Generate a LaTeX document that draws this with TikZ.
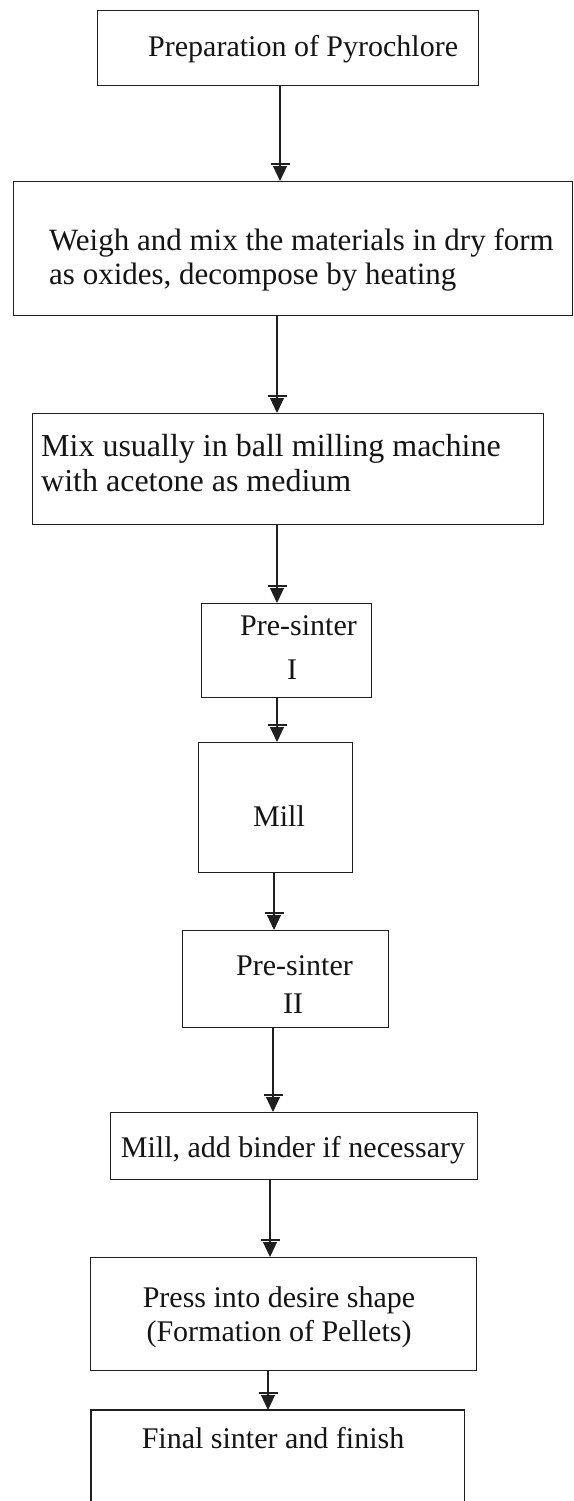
\documentclass[tikz,border=0pt]{standalone}
\usepackage{fontspec}
\setmainfont{Liberation Serif}
\usetikzlibrary{arrows.meta}
\begin{document}
\begin{tikzpicture}[x=1pt,y=-1pt,
  fr/.style={draw=black!88, line width=1.1pt, inner sep=0pt, anchor=north west},
  txt/.style={inner sep=0pt, text=black!92, font=\fontsize{30}{34}\selectfont},
  txtb/.style={inner sep=0pt, text=black!92, font=\fontsize{31}{35}\selectfont},
  txtc/.style={inner sep=0pt, text=black!92, font=\fontsize{32}{36}\selectfont},
  arr/.style={draw=black!88, line width=1.1pt,
    -{Bar[width=19pt,line width=2.6pt,sep=0.6pt] Triangle[width=14pt,length=15pt]}}]
\useasboundingbox (0,0) rectangle (573,1501);
% boxes
\node[fr, minimum width=381pt, minimum height=75pt]  (b1) at (97,10) {};
\node[fr, minimum width=559pt, minimum height=134pt] (b2) at (13,181) {};
\node[fr, minimum width=511pt, minimum height=111pt] (b3) at (32,413) {};
\node[fr, minimum width=170pt, minimum height=94pt]  (b4) at (201,603) {};
\node[fr, minimum width=154pt, minimum height=130pt] (b5) at (198,742) {};
\node[fr, minimum width=206pt, minimum height=97pt]  (b6) at (182,930) {};
\node[fr, minimum width=367pt, minimum height=67pt]  (b7) at (110,1112) {};
\node[fr, minimum width=386pt, minimum height=113pt] (b8) at (90,1257) {};
\node[fr, draw=none, minimum width=372pt, minimum height=91pt] (b9) at (91,1410) {};
\draw[draw=black!88, line width=1.1pt] (b9.south west) -- (b9.north west) -- (b9.north east) -- (b9.south east);
% texts
\node[txt, anchor=base west] (t1) at (148,57) {Preparation of Pyrochlore};
\node[txtb, anchor=base west] (t2a) at (49,250) {Weigh and mix the materials in dry form};
\node[txtb, anchor=base west] (t2b) at (49,284) {as oxides, decompose by heating};
\node[txtc, anchor=base west] (t3a) at (41,456) {Mix usually in ball milling machine};
\node[txtc, anchor=base west] (t3b) at (41,491) {with acetone as medium};
\node[txt, anchor=base west] (t4a) at (240,635) {Pre-sinter};
\node[txt, anchor=base] (t4b) at (292,679) {I};
\node[txt, anchor=base] (t5) at (279,826) {Mill};
\node[txt, anchor=base west] (t6a) at (236,975) {Pre-sinter};
\node[txt, anchor=base] (t6b) at (293,1013) {II};
\node[txt, anchor=base] (t7) at (293,1157) {Mill, add binder if necessary};
\node[txt, anchor=base] (t8a) at (279,1307) {Press into desire shape};
\node[txt, anchor=base] (t8b) at (279,1341) {(Formation of Pellets)};
\node[txt, anchor=base] (t9) at (273,1448) {Final sinter and finish};
% arrows
\draw[arr] (b1.south -| 280,0) -- (b2.north -| 280,0);
\draw[arr] (b2.south -| 277,0) -- (b3.north -| 277,0);
\draw[arr] (b3.south -| 277,0) -- (b4.north -| 277,0);
\draw[arr] (b4.south -| 277,0) -- (b5.north -| 277,0);
\draw[arr] (b5.south -| 274,0) -- (b6.north -| 274,0);
\draw[arr] (b6.south -| 273,0) -- (b7.north -| 273,0);
\draw[arr] (b7.south -| 270,0) -- (b8.north -| 270,0);
\draw[arr] (b8.south -| 268,0) -- (b9.north -| 268,0);
\end{tikzpicture}
\end{document}
